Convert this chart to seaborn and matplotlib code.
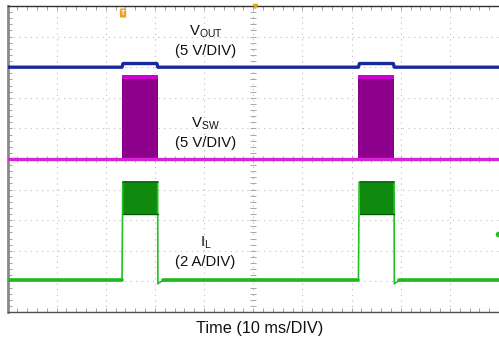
import numpy as np
import pandas as pd
import matplotlib
matplotlib.use("Agg")
import matplotlib.pyplot as plt
import seaborn as sns

# ---- data (time in ms, amplitude in screen divisions, 0 = bottom, 10 = top) ----
pulse_start = [23.3, 71.4]          # ms
pulse_end = [30.6, 78.7]            # ms

vout_t = [0, 23.3, 23.5, 30.4, 30.6, 71.4, 71.6, 78.5, 78.7, 100]
vout_v = [8.0, 8.0, 8.12, 8.12, 8.0, 8.0, 8.12, 8.12, 8.0, 8.0]

vsw_t = [0, 23.3, 30.6, 71.4, 78.7, 100]
vsw_v = [5.0, 5.0, 5.0, 5.0, 5.0, 5.0]
vsw_low = 4.95
vsw_mid = 7.63
vsw_high = 7.75

il_t = [0, 23.3, 23.45, 30.55, 30.6, 30.75, 31.6, 35.0,
        71.4, 71.55, 78.65, 78.7, 78.85, 79.7, 83.0, 100]
il_v = [1.05, 1.05, 4.24, 4.24, 0.92, 0.95, 1.02, 1.05,
        1.05, 4.24, 4.24, 0.92, 0.95, 1.02, 1.05, 1.05]
il_band_low = 3.2
il_band_high = 4.26
il_marker = 2.55

labels = [("V$_{\\mathrm{OUT}}$", 40.3, 9.15), ("(5 V/DIV)", 40.3, 8.52),
          ("V$_{\\mathrm{SW}}$", 40.3, 6.14), ("(5 V/DIV)", 40.3, 5.52),
          ("I$_{\\mathrm{L}}$", 40.3, 2.27), ("(2 A/DIV)", 40.3, 1.62)]
xlabel = "Time (10 ms/DIV)"

# ---- style ----
sns.set_theme(style="white")
plt.rcParams["font.family"] = ["Liberation Sans", "DejaVu Sans"]
plt.rcParams["mathtext.fontset"] = "custom"
plt.rcParams["mathtext.rm"] = "Liberation Sans"
plt.rcParams["mathtext.it"] = "Liberation Sans"

fig = plt.figure(figsize=(4.99, 3.43), dpi=100)
ax = fig.add_axes([7.5 / 499, 31 / 343, 491.5 / 499, 306 / 343])
ax.set_xlim(0, 100)
ax.set_ylim(0, 10)

# grid
for gx in np.arange(10, 100, 10):
    ax.axvline(gx, color="#bcbcbc", lw=0.8, ls=(0, (1, 4)), zorder=0)
for gy in np.arange(1, 10, 1):
    ax.axhline(gy, color="#bcbcbc", lw=0.8, ls=(0, (1, 4)), zorder=0)

# center minor ticks
yt = np.arange(0.2, 10, 0.2)
ax.plot(np.full_like(yt, 50), yt, ls="none", marker="_", ms=4, mew=0.7,
        color="#a8a8a8", zorder=0)
xt = np.arange(2, 100, 2)
ax.plot(xt, np.full_like(xt, 5.0), ls="none", marker="|", ms=4, mew=0.7,
        color="#a8a8a8", zorder=0)

# spines / ticks
ax.spines["right"].set_visible(False)
ax.spines["left"].set_color("#8a8a8a")
ax.spines["left"].set_linewidth(2.0)
ax.spines["top"].set_color("#303030")
ax.spines["top"].set_linewidth(1.0)
ax.spines["bottom"].set_color("#505050")
ax.spines["bottom"].set_linewidth(1.0)
ax.set_xticks(np.arange(0, 101, 10))
ax.set_yticks(np.arange(0, 11, 1))
ax.set_xticks(np.arange(0, 101, 2), minor=True)
ax.set_yticks(np.arange(0, 10.01, 0.2), minor=True)
ax.tick_params(which="both", direction="in", labelbottom=False, labelleft=False,
               bottom=True, left=True, top=True, right=False,
               color="#a0a0a0", length=3, width=0.7)

# dense switching regions
for s, e in zip(pulse_start, pulse_end):
    ax.fill_between([s, e], vsw_low, vsw_mid, color="#8c008c", lw=0, zorder=2)
    ax.fill_between([s, e], vsw_mid, vsw_high, color="#d000d0", lw=0, zorder=2)
    ax.fill_between([s + 0.3, e], il_band_low, il_band_high, color="#0f8a0f",
                    lw=0, zorder=2)
    ax.plot([s + 0.3, e], [il_band_high, il_band_high], color="#006000", lw=1.2, zorder=4)
    ax.plot([s + 0.3, e], [il_band_low, il_band_low], color="#006000", lw=1.0, zorder=4)

df_vout = pd.DataFrame({"t": vout_t, "v": vout_v})
df_vsw = pd.DataFrame({"t": vsw_t, "v": vsw_v})
df_il = pd.DataFrame({"t": il_t, "v": il_v})

sns.lineplot(data=df_vout, x="t", y="v", ax=ax, color="#16289c", lw=2.4,
             sort=False, zorder=4)
sns.lineplot(data=df_vsw, x="t", y="v", ax=ax, color="#d824d8", lw=2.4,
             sort=False, zorder=3)
sns.lineplot(data=df_il, x="t", y="v", ax=ax, color="#22c022", lw=1.2,
             sort=False, zorder=3)
base = il_v[0]
for a, b in [(0, pulse_start[0]), (pulse_end[0] + 1.0, pulse_start[1]),
             (pulse_end[1] + 1.0, 100)]:
    ax.plot([a, b], [base, base], color="#1fb81f", lw=2.6, zorder=3)

ax.plot([99.7], [il_marker], marker="o", ms=3, color="#22c022", clip_on=False, zorder=5)

# trigger markers
ax.text(pulse_start[0] + 0.2, 9.77, "T", fontsize=5, color="white", ha="center",
        va="center", fontweight="bold",
        bbox=dict(boxstyle="round,pad=0.15", fc="#f0a020", ec="none"))
ax.plot([50.3], [10], marker="v", ms=3, color="#f0a020", clip_on=False, zorder=6)

for txt, x, y in labels:
    ax.text(x, y, txt, fontsize=10.7, ha="center", va="center", color="#111111")

ax.set_xlabel("")
ax.set_ylabel("")
fig.text(260 / 499, 1 - 328 / 343, xlabel, fontsize=11.7, ha="center",
         va="center", color="#111111")

fig.savefig("out.png", dpi=100)
